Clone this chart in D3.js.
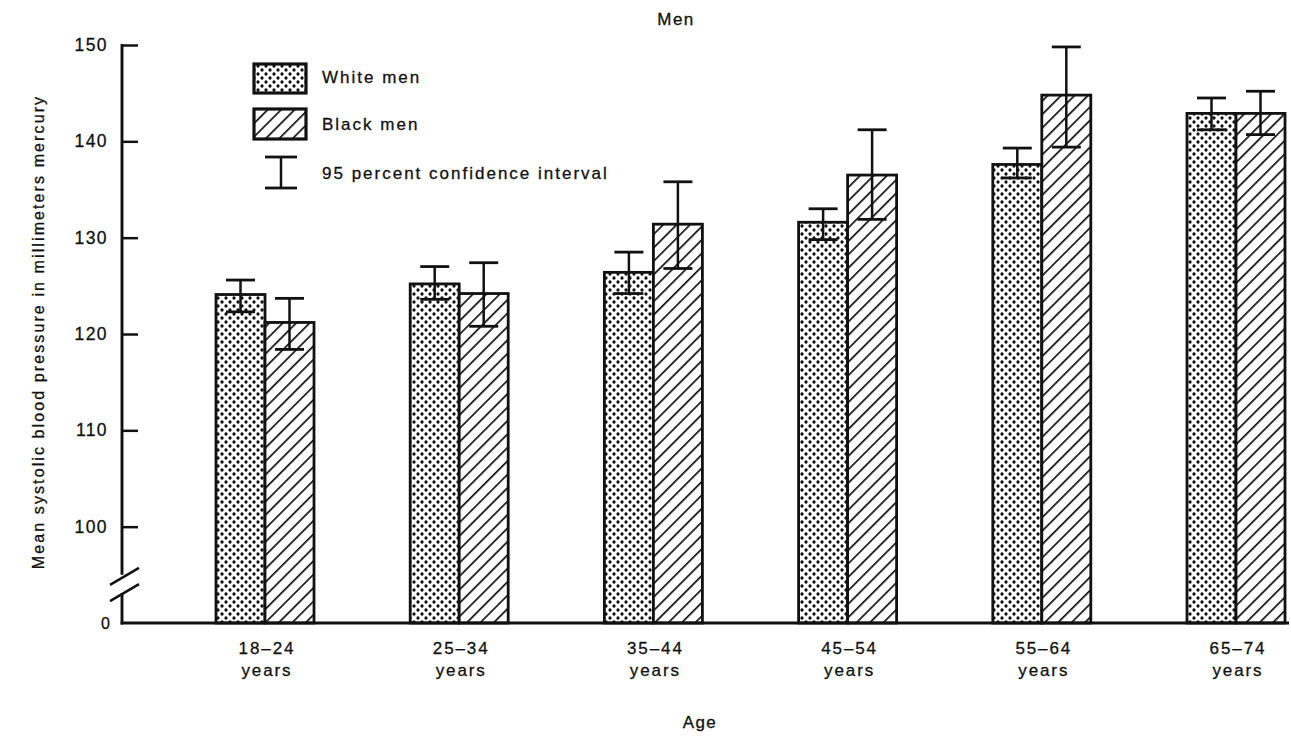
<!DOCTYPE html>
<html><head><meta charset="utf-8">
<script src="https://cdn.jsdelivr.net/npm/d3@7/dist/d3.min.js"></script>
<style>
body{margin:0;background:#fff}
text{font-family:"Liberation Sans",Arial,Helvetica,sans-serif;fill:#111;stroke:#111;stroke-width:0.3}
</style>
</head><body>
<svg id="chart" width="1291" height="740"></svg>
<script>
// ---- data ----
const categories = ["18–24", "25–34", "35–44", "45–54", "55–64", "65–74"];
const categorySub = ["years", "years", "years", "years", "years", "years"];
const whiteMen     = [124.1, 125.2, 126.4, 131.6, 137.6, 142.9];
const whiteLow     = [122.3, 123.6, 124.2, 129.8, 136.2, 141.2];
const whiteHigh    = [125.6, 127.0, 128.5, 133.0, 139.3, 144.5];
const blackMen     = [121.2, 124.2, 131.4, 136.5, 144.8, 142.9];
const blackLow     = [118.4, 120.8, 126.8, 131.9, 139.4, 140.7];
const blackHigh    = [123.7, 127.4, 135.8, 141.2, 149.8, 145.2];
const yTickValues  = [90, 100, 110, 120, 130, 140, 150];
const yTickLabels  = ["0", "100", "110", "120", "130", "140", "150"];
const breakValues  = [94.9, 93.2];
const seriesNames  = ["White men", "Black men", "95 percent confidence interval"];

// ---- layout ----
const svg = d3.select("#chart");
const y = d3.scaleLinear().domain([90, 150]).range([623, 45]);
const x = d3.scalePoint().domain(categories).range([265, 1236]);
const barW = 49, capW = 29;
const axisX = 122;

const defs = svg.append("defs");
const dots = defs.append("pattern").attr("id", "dots").attr("patternUnits", "userSpaceOnUse")
  .attr("width", 8).attr("height", 8);
dots.append("rect").attr("width", 8).attr("height", 8).attr("fill", "#fff");
dots.append("circle").attr("cx", 2).attr("cy", 2).attr("r", 1.65).attr("fill", "#111");
dots.append("circle").attr("cx", 6).attr("cy", 6).attr("r", 1.65).attr("fill", "#111");

const hatch = defs.append("pattern").attr("id", "hatch").attr("patternUnits", "userSpaceOnUse")
  .attr("width", 9.5).attr("height", 9.5).attr("patternTransform", "rotate(45)");
hatch.append("rect").attr("width", 9.5).attr("height", 9.5).attr("fill", "#fff");
hatch.append("line").attr("x1", 0).attr("y1", 0).attr("x2", 0).attr("y2", 9.5)
  .attr("stroke", "#111").attr("stroke-width", 3.4);

// ---- bars ----
const groups = svg.append("g").selectAll("g").data(categories).join("g");
groups.append("rect")
  .attr("x", d => x(d) - barW).attr("width", barW)
  .attr("y", (d, i) => y(whiteMen[i])).attr("height", (d, i) => y(90) - y(whiteMen[i]))
  .attr("fill", "url(#dots)").attr("stroke", "#111").attr("stroke-width", 2.8);
groups.append("rect")
  .attr("x", d => x(d)).attr("width", barW)
  .attr("y", (d, i) => y(blackMen[i])).attr("height", (d, i) => y(90) - y(blackMen[i]))
  .attr("fill", "url(#hatch)").attr("stroke", "#111").attr("stroke-width", 2.8);

// ---- error bars ----
function errBar(g, cx, lo, hi) {
  g.append("line").attr("x1", cx).attr("x2", cx).attr("y1", y(lo)).attr("y2", y(hi))
    .attr("stroke", "#111").attr("stroke-width", 2.5);
  [lo, hi].forEach(v => g.append("line").attr("x1", cx - capW / 2).attr("x2", cx + capW / 2)
    .attr("y1", y(v)).attr("y2", y(v)).attr("stroke", "#111").attr("stroke-width", 2.8));
}
groups.each(function (d, i) {
  const g = d3.select(this);
  errBar(g, x(d) - barW / 2, whiteLow[i], whiteHigh[i]);
  errBar(g, x(d) + barW / 2, blackLow[i], blackHigh[i]);
});

// ---- y axis ----
const yAxis = d3.axisLeft(y).tickValues(yTickValues.filter(v => v !== 90))
  .tickSize(-16).tickPadding(30)
  .tickFormat(v => yTickLabels[yTickValues.indexOf(v)]);
const ya = svg.append("g").attr("transform", `translate(${axisX},0)`).call(yAxis);
ya.select(".domain").remove();
ya.selectAll(".tick line").attr("stroke", "#111").attr("stroke-width", 2.5);
ya.selectAll(".tick text").attr("x", -14).attr("font-size", 17.5).attr("letter-spacing", 1.4)
  .attr("fill", "#111").style("font-family", '"Liberation Sans",Arial,sans-serif');
svg.append("text").attr("x", axisX - 12).attr("y", y(90)).attr("dy", "0.38em")
  .attr("text-anchor", "end").attr("font-size", 16).text(yTickLabels[0]);

// axis line with break
svg.append("line").attr("x1", axisX).attr("x2", axisX).attr("y1", y(150) - 1).attr("y2", y(breakValues[0]) - 1)
  .attr("stroke", "#111").attr("stroke-width", 2.9);
svg.append("line").attr("x1", axisX).attr("x2", axisX).attr("y1", y(breakValues[1]) + 1).attr("y2", y(90) + 1.5)
  .attr("stroke", "#111").attr("stroke-width", 2.9);
breakValues.forEach(v => {
  svg.append("line").attr("x1", axisX - 12).attr("x2", axisX + 17)
    .attr("y1", y(v) + 9).attr("y2", y(v) - 8).attr("stroke", "#111").attr("stroke-width", 2.5);
});

// x axis
svg.append("line").attr("x1", axisX - 1.4).attr("x2", x(categories[5]) + barW + 4)
  .attr("y1", y(90)).attr("y2", y(90)).attr("stroke", "#111").attr("stroke-width", 3.2);
const xl = svg.append("g").selectAll("text").data(categories).join("text")
  .attr("text-anchor", "middle").attr("font-size", 17).attr("letter-spacing", 1.9);
xl.append("tspan").attr("x", d => x(d) + 2).attr("y", 654).text(d => d);
xl.append("tspan").attr("x", d => x(d) + 2).attr("y", 676).text((d, i) => categorySub[i]);

// titles
svg.append("text").attr("x", 676).attr("y", 25).attr("text-anchor", "middle")
  .attr("font-size", 17).attr("letter-spacing", 1.4).text("Men");
svg.append("text").attr("x", 700).attr("y", 728).attr("text-anchor", "middle")
  .attr("font-size", 17).attr("letter-spacing", 1.4).text("Age");
svg.append("text").attr("transform", "translate(44,332) rotate(-90)").attr("text-anchor", "middle")
  .attr("font-size", 16).attr("letter-spacing", 2.1)
  .text("Mean systolic blood pressure in millimeters mercury");

// ---- legend ----
const lg = svg.append("g");
lg.append("rect").attr("x", 254).attr("y", 64).attr("width", 52).attr("height", 29)
  .attr("fill", "url(#dots)").attr("stroke", "#111").attr("stroke-width", 3.2);
lg.append("rect").attr("x", 254).attr("y", 109).attr("width", 52).attr("height", 30)
  .attr("fill", "url(#hatch)").attr("stroke", "#111").attr("stroke-width", 3.2);
lg.append("line").attr("x1", 281).attr("x2", 281).attr("y1", 157).attr("y2", 188)
  .attr("stroke", "#111").attr("stroke-width", 2.5);
[157, 188].forEach(v => lg.append("line").attr("x1", 265).attr("x2", 297).attr("y1", v).attr("y2", v)
  .attr("stroke", "#111").attr("stroke-width", 2.8));
[83, 130, 179].forEach((by, i) => lg.append("text").attr("x", 322).attr("y", by)
  .attr("font-size", 17).attr("letter-spacing", 2).text(seriesNames[i]));
</script>
</body></html>
